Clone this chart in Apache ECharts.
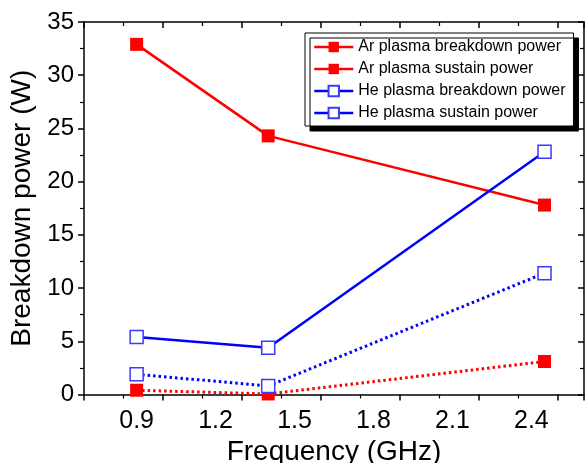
<!DOCTYPE html>
<html>
<head>
<meta charset="utf-8">
<script src="https://cdn.jsdelivr.net/npm/echarts@6/dist/echarts.min.js"></script>
<style>html,body{margin:0;padding:0;background:#fff;}#c{width:586px;height:463px;}</style>
</head>
<body>
<div id="c"></div>
<script>
var freqs = [0.9, 1.4, 2.45];
var arBreakdown = [32.9, 24.3, 17.8];
var arSustain = [0.4, 0.05, 3.1];
var heBreakdown = [5.4, 4.4, 22.8];
var heSustain = [1.9, 0.8, 11.4];
var seriesNames = ['Ar plasma breakdown power', 'Ar plasma sustain power', 'He plasma breakdown power', 'He plasma sustain power'];
var xTicks = [0.9, 1.2, 1.5, 1.8, 2.1, 2.4];
var yTicks = [0, 5, 10, 15, 20, 25, 30, 35];

function pairs(xs, ys) { return xs.map(function (x, i) { return [x, ys[i]]; }); }

var FONT = 'Liberation Sans';
var chart = echarts.init(document.getElementById('c'), null, {renderer: 'canvas'});

function mk(name, data, color, dotted, hollow) {
  return {
    name: name, type: 'line', data: pairs(freqs, data),
    symbol: 'rect', symbolSize: 13,
    clip: true,
    lineStyle: {color: color, width: dotted ? 3 : 2.5, type: dotted ? [2.5, 3] : 'solid'},
    itemStyle: hollow ? {color: '#fff', borderColor: '#3a3aff', borderWidth: 1.5} : {color: color, borderColor: color, borderWidth: 0},
    emphasis: {disabled: true},
    z: hollow ? 3 : 2
  };
}

var xAxisCommon = {
  type: 'value', min: 0.7, max: 2.6, interval: 0.3,
  splitLine: {show: false},
  axisLine: {show: true, onZero: false, lineStyle: {color: '#000', width: 1.5}},
  minorTick: {show: true, splitNumber: 2, length: 4, lineStyle: {color: '#000', width: 1.2}},
  minorSplitLine: {show: false}
};
var yAxisCommon = {
  type: 'value', min: 0, max: 35, interval: 5,
  splitLine: {show: false},
  axisLine: {show: true, onZero: false, lineStyle: {color: '#000', width: 1.5}},
  minorTick: {show: true, splitNumber: 2, length: 4, lineStyle: {color: '#000', width: 1.2}},
  minorSplitLine: {show: false}
};

var option = {
  backgroundColor: '#fff',
  animation: false,
  grid: {left: 84, right: 2, top: 22, bottom: 68.5, containLabel: false, outerBoundsMode: 'none'},
  xAxis: [
    Object.assign({}, xAxisCommon, {
      position: 'bottom',
      name: 'Frequency (GHz)', nameLocation: 'middle', nameGap: 44,
      nameTextStyle: {fontFamily: FONT, fontSize: 28, color: '#000'},
      axisTick: {show: true, inside: false, length: 6, lineStyle: {color: '#000', width: 1.5}},
      axisLabel: {show: true, margin: 14, fontFamily: FONT, fontSize: 25, color: '#000',
        customValues: xTicks, formatter: function (v) { return v.toFixed(1); }},
    }),
    Object.assign({}, xAxisCommon, {
      position: 'top',
      axisTick: {show: true, inside: true, length: 6, lineStyle: {color: '#000', width: 1.5}},
      minorTick: {show: true, splitNumber: 2, length: 4, lineStyle: {color: '#000', width: 1.2}},
      axisLabel: {show: false}
    })
  ],
  yAxis: [
    Object.assign({}, yAxisCommon, {
      position: 'left',
      name: 'Breakdown power (W)', nameLocation: 'middle', nameGap: 44,
      nameTextStyle: {fontFamily: FONT, fontSize: 28, color: '#000'},
      axisTick: {show: true, inside: false, length: 6, lineStyle: {color: '#000', width: 1.5}},
      axisLabel: {show: true, margin: 10, fontFamily: FONT, fontSize: 24, color: '#000',
        customValues: yTicks}
    }),
    Object.assign({}, yAxisCommon, {
      position: 'right',
      axisTick: {show: true, inside: true, length: 6, lineStyle: {color: '#000', width: 1.5}},
      minorTick: {show: true, splitNumber: 2, length: 4, lineStyle: {color: '#000', width: 1.2}},
      axisLabel: {show: false}
    })
  ],
  legend: {
    orient: 'vertical', left: 305, top: 33,
    padding: [6, 8, 5, 8], itemGap: 6, itemWidth: 39, itemHeight: 13,
    backgroundColor: '#fff', borderColor: '#000', borderWidth: 1,
    shadowColor: '#000', shadowBlur: 0, shadowOffsetX: 5, shadowOffsetY: 5,
    textStyle: {fontFamily: FONT, fontSize: 16, color: '#000'},
    lineStyle: {type: 'solid', width: 2.5},
    data: seriesNames,
    selectedMode: false
  },
  series: [
    mk(seriesNames[0], arBreakdown, '#ff0000', false, false),
    mk(seriesNames[1], arSustain, '#ff0000', true, false),
    mk(seriesNames[2], heBreakdown, '#0000ff', false, true),
    mk(seriesNames[3], heSustain, '#0000ff', true, true)
  ]
};
chart.setOption(option);
</script>
</body>
</html>
